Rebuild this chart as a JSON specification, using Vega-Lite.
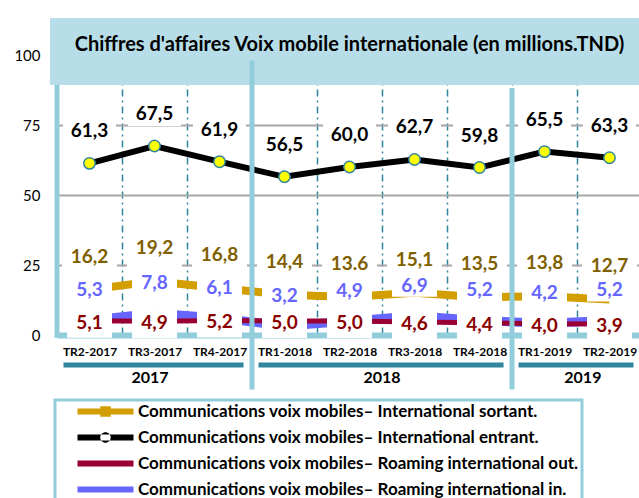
{
  "$schema": "https://vega.github.io/schema/vega-lite/v6.json",
  "width": 585,
  "height": 280,
  "autosize": {"type": "none"},
  "padding": {"left": 57, "top": 55, "right": 0, "bottom": 163},
  "background": "white",
  "config": {"view": {"stroke": null}, "font": "Lato", "legend": {"strokeWidth": 3}},
  "datasets": {
    "main": [
      {"q": "TR2-2017", "k": "e", "series": "Communications voix mobiles– International entrant.", "v": 61.3, "label": "61,3"},
      {"q": "TR3-2017", "k": "e", "series": "Communications voix mobiles– International entrant.", "v": 67.5, "label": "67,5"},
      {"q": "TR4-2017", "k": "e", "series": "Communications voix mobiles– International entrant.", "v": 61.9, "label": "61,9"},
      {"q": "TR1-2018", "k": "e", "series": "Communications voix mobiles– International entrant.", "v": 56.5, "label": "56,5"},
      {"q": "TR2-2018", "k": "e", "series": "Communications voix mobiles– International entrant.", "v": 60.0, "label": "60,0"},
      {"q": "TR3-2018", "k": "e", "series": "Communications voix mobiles– International entrant.", "v": 62.7, "label": "62,7"},
      {"q": "TR4-2018", "k": "e", "series": "Communications voix mobiles– International entrant.", "v": 59.8, "label": "59,8"},
      {"q": "TR1-2019", "k": "e", "series": "Communications voix mobiles– International entrant.", "v": 65.5, "label": "65,5"},
      {"q": "TR2-2019", "k": "e", "series": "Communications voix mobiles– International entrant.", "v": 63.3, "label": "63,3"},
      {"q": "TR2-2017", "k": "s", "series": "Communications voix mobiles– International sortant.", "v": 16.2, "label": "16,2"},
      {"q": "TR3-2017", "k": "s", "series": "Communications voix mobiles– International sortant.", "v": 19.2, "label": "19,2"},
      {"q": "TR4-2017", "k": "s", "series": "Communications voix mobiles– International sortant.", "v": 16.8, "label": "16,8"},
      {"q": "TR1-2018", "k": "s", "series": "Communications voix mobiles– International sortant.", "v": 14.4, "label": "14,4"},
      {"q": "TR2-2018", "k": "s", "series": "Communications voix mobiles– International sortant.", "v": 13.6, "label": "13.6"},
      {"q": "TR3-2018", "k": "s", "series": "Communications voix mobiles– International sortant.", "v": 15.1, "label": "15,1"},
      {"q": "TR4-2018", "k": "s", "series": "Communications voix mobiles– International sortant.", "v": 13.5, "label": "13,5"},
      {"q": "TR1-2019", "k": "s", "series": "Communications voix mobiles– International sortant.", "v": 13.8, "label": "13,8"},
      {"q": "TR2-2019", "k": "s", "series": "Communications voix mobiles– International sortant.", "v": 12.7, "label": "12,7"},
      {"q": "TR2-2017", "k": "o", "series": "Communications voix mobiles– Roaming international out.", "v": 5.1, "label": "5,1"},
      {"q": "TR3-2017", "k": "o", "series": "Communications voix mobiles– Roaming international out.", "v": 4.9, "label": "4,9"},
      {"q": "TR4-2017", "k": "o", "series": "Communications voix mobiles– Roaming international out.", "v": 5.2, "label": "5,2"},
      {"q": "TR1-2018", "k": "o", "series": "Communications voix mobiles– Roaming international out.", "v": 5.0, "label": "5,0"},
      {"q": "TR2-2018", "k": "o", "series": "Communications voix mobiles– Roaming international out.", "v": 5.0, "label": "5,0"},
      {"q": "TR3-2018", "k": "o", "series": "Communications voix mobiles– Roaming international out.", "v": 4.6, "label": "4,6"},
      {"q": "TR4-2018", "k": "o", "series": "Communications voix mobiles– Roaming international out.", "v": 4.4, "label": "4,4"},
      {"q": "TR1-2019", "k": "o", "series": "Communications voix mobiles– Roaming international out.", "v": 4.0, "label": "4,0"},
      {"q": "TR2-2019", "k": "o", "series": "Communications voix mobiles– Roaming international out.", "v": 3.9, "label": "3,9"},
      {"q": "TR2-2017", "k": "i", "series": "Communications voix mobiles– Roaming international in.", "v": 5.3, "label": "5,3"},
      {"q": "TR3-2017", "k": "i", "series": "Communications voix mobiles– Roaming international in.", "v": 7.8, "label": "7,8"},
      {"q": "TR4-2017", "k": "i", "series": "Communications voix mobiles– Roaming international in.", "v": 6.1, "label": "6,1"},
      {"q": "TR1-2018", "k": "i", "series": "Communications voix mobiles– Roaming international in.", "v": 3.2, "label": "3,2"},
      {"q": "TR2-2018", "k": "i", "series": "Communications voix mobiles– Roaming international in.", "v": 4.9, "label": "4,9"},
      {"q": "TR3-2018", "k": "i", "series": "Communications voix mobiles– Roaming international in.", "v": 6.9, "label": "6,9"},
      {"q": "TR4-2018", "k": "i", "series": "Communications voix mobiles– Roaming international in.", "v": 5.2, "label": "5,2"},
      {"q": "TR1-2019", "k": "i", "series": "Communications voix mobiles– Roaming international in.", "v": 4.2, "label": "4,2"},
      {"q": "TR2-2019", "k": "i", "series": "Communications voix mobiles– Roaming international in.", "v": 5.2, "label": "5,2"}
    ],
    "years": [
      {"year": "2017", "start": "TR2-2017", "end": "TR4-2017"},
      {"year": "2018", "start": "TR1-2018", "end": "TR4-2018"},
      {"year": "2019", "start": "TR1-2019", "end": "TR2-2019"}
    ],
    "one": [{"a": 1}]
  },
  "data": {"name": "main"},
  "layer": [
    {
      "transform": [{"filter": "datum.k === 's'"}],
      "mark": {"type": "line", "color": "#d39e00", "strokeWidth": 8},
      "encoding": {
        "x": {
          "field": "q", "type": "ordinal", "sort": null,
          "scale": {"type": "band", "domain": ["TR2-2017", "TR3-2017", "TR4-2017", "TR1-2018", "TR2-2018", "TR3-2018", "TR4-2018", "TR1-2019", "TR2-2019"], "paddingInner": 0, "paddingOuter": 0},
          "axis": {"title": null, "labelAngle": 0, "labelFont": "Lato", "labelFontWeight": "bold", "labelFontSize": 12, "labelColor": "black", "labelPadding": 11, "ticks": false, "domainColor": "#92cddc", "domainWidth": 6, "grid": true, "gridColor": "#31859c", "gridDash": [7, 4, 2, 4], "gridWidth": 1.5, "tickBand": "extent"}
        },
        "y": {
          "field": "v", "type": "quantitative",
          "scale": {"domain": [0, 100], "nice": false},
          "axis": {"title": null, "values": [0, 25, 50, 75, 100], "labelFont": "Lato", "labelFontSize": 15, "labelColor": "black", "labelPadding": 17, "ticks": false, "domain": false, "gridColor": "#a6a6a6", "gridWidth": 2}
        }
      }
    },
    {
      "transform": [{"filter": "datum.k === 'i'"}],
      "mark": {"type": "line", "color": "#6666ff", "strokeWidth": 9},
      "encoding": {"x": {"field": "q", "type": "ordinal", "sort": null}, "y": {"field": "v", "type": "quantitative"}}
    },
    {
      "transform": [{"filter": "datum.k === 'o'"}],
      "mark": {"type": "line", "color": "#990033", "strokeWidth": 5},
      "encoding": {"x": {"field": "q", "type": "ordinal", "sort": null}, "y": {"field": "v", "type": "quantitative"}}
    },
    {
      "transform": [{"filter": "datum.k === 's'"}],
      "mark": {"type": "point", "shape": "M-1,-0.58H1V0.58H-1Z", "size": 3025, "filled": true, "fill": "white", "opacity": 1, "strokeWidth": 0, "yOffset": -30},
      "encoding": {"x": {"field": "q", "type": "ordinal", "sort": null}, "y": {"field": "v", "type": "quantitative"}}
    },
    {
      "transform": [{"filter": "datum.k === 'i'"}],
      "mark": {"type": "point", "shape": "M-1,-0.49H1V0.49H-1Z", "size": 2025, "filled": true, "fill": "white", "opacity": 1, "strokeWidth": 0, "yOffset": -30},
      "encoding": {"x": {"field": "q", "type": "ordinal", "sort": null}, "y": {"field": "v", "type": "quantitative"}}
    },
    {
      "transform": [{"filter": "datum.k === 'o'"}],
      "mark": {"type": "point", "shape": "M-1,-0.667H1V0.667H-1Z", "size": 2025, "filled": true, "fill": "white", "opacity": 1, "strokeWidth": 0, "yOffset": 2},
      "encoding": {"x": {"field": "q", "type": "ordinal", "sort": null}, "y": {"field": "v", "type": "quantitative"}}
    },
    {
      "transform": [{"filter": "datum.k === 'e'"}],
      "mark": {"type": "point", "shape": "M-1,-0.453H1V0.453H-1Z", "size": 2809, "filled": true, "fill": "white", "opacity": 1, "strokeWidth": 0, "yOffset": -32},
      "encoding": {"x": {"field": "q", "type": "ordinal", "sort": null}, "y": {"field": "v", "type": "quantitative"}}
    },
    {
      "data": {"name": "one"},
      "mark": {"type": "rect", "fill": "#b7dee8", "xOffset": -7},
      "encoding": {
        "x": {"datum": "TR2-2017", "bandPosition": 0},
        "x2": {"datum": "TR2-2019", "bandPosition": 1},
        "y": {"datum": 113.2},
        "y2": {"datum": 89.3}
      }
    },
    {
      "transform": [{"filter": "datum.k === 'e'"}],
      "mark": {"type": "line", "color": "black", "strokeWidth": 6},
      "encoding": {"x": {"field": "q", "type": "ordinal", "sort": null}, "y": {"field": "v", "type": "quantitative"}}
    },
    {
      "transform": [{"filter": "datum.k === 'e'"}],
      "mark": {"type": "point", "filled": true, "fill": "#ffff00", "stroke": "#31859c", "strokeWidth": 1.5, "size": 130, "opacity": 1},
      "encoding": {"x": {"field": "q", "type": "ordinal", "sort": null}, "y": {"field": "v", "type": "quantitative"}}
    },
    {
      "data": {"name": "one"},
      "mark": {"type": "rule", "color": "#92cddc", "strokeWidth": 5},
      "encoding": {"x": {"datum": "TR1-2018", "bandPosition": 0}, "y": {"datum": 98}, "y2": {"datum": -19.5}}
    },
    {
      "data": {"name": "one"},
      "mark": {"type": "rule", "color": "#92cddc", "strokeWidth": 5},
      "encoding": {"x": {"datum": "TR1-2019", "bandPosition": 0}, "y": {"datum": 88.2}, "y2": {"datum": -19.5}}
    },
    {
      "data": {"name": "one"},
      "mark": {"type": "rule", "color": "#92cddc", "strokeWidth": 5},
      "encoding": {"x": {"datum": "TR2-2017", "bandPosition": 0}, "y": {"datum": 89.3}, "y2": {"datum": -1}}
    },
    {
      "data": {"name": "one"},
      "mark": {"type": "text", "fontWeight": "bold", "fontSize": 20, "font": "Lato", "color": "black", "baseline": "middle", "align": "center"},
      "encoding": {"x": {"datum": "TR2-2018"}, "y": {"datum": 103.6}, "text": {"value": "Chiffres d'affaires Voix mobile internationale (en millions.TND)"}}
    },
    {
      "transform": [{"filter": "datum.k === 'e'"}],
      "mark": {"type": "text", "fontWeight": "bold", "fontSize": 19, "font": "Lato", "color": "black", "baseline": "middle", "dy": -32},
      "encoding": {"x": {"field": "q", "type": "ordinal", "sort": null}, "y": {"field": "v", "type": "quantitative"}, "text": {"field": "label"}}
    },
    {
      "transform": [{"filter": "datum.k === 's'"}],
      "mark": {"type": "text", "fontWeight": "bold", "fontSize": 19, "font": "Lato", "color": "#7f6000", "baseline": "middle", "dy": -33},
      "encoding": {"x": {"field": "q", "type": "ordinal", "sort": null}, "y": {"field": "v", "type": "quantitative"}, "text": {"field": "label"}}
    },
    {
      "transform": [{"filter": "datum.k === 'i'"}],
      "mark": {"type": "text", "fontWeight": "bold", "fontSize": 19, "font": "Lato", "color": "#6666ff", "baseline": "middle", "dy": -30},
      "encoding": {"x": {"field": "q", "type": "ordinal", "sort": null}, "y": {"field": "v", "type": "quantitative"}, "text": {"field": "label"}}
    },
    {
      "transform": [{"filter": "datum.k === 'o'"}],
      "mark": {"type": "text", "fontWeight": "bold", "fontSize": 19, "font": "Lato", "color": "#8b0000", "baseline": "middle", "dy": 2},
      "encoding": {"x": {"field": "q", "type": "ordinal", "sort": null}, "y": {"field": "v", "type": "quantitative"}, "text": {"field": "label"}}
    },
    {
      "data": {"name": "years"},
      "mark": {"type": "rule", "color": "#31859c", "strokeWidth": 5},
      "encoding": {
        "x": {"field": "start", "type": "ordinal", "bandPosition": 0.1},
        "x2": {"field": "end", "bandPosition": 0.87},
        "y": {"datum": -10.7}
      }
    },
    {
      "data": {"name": "one"},
      "mark": {"type": "text", "fontWeight": "bold", "fontSize": 16, "font": "Lato", "color": "black", "baseline": "middle"},
      "encoding": {"x": {"datum": "TR3-2017", "bandPosition": 0.43}, "y": {"datum": -15.4}, "text": {"value": "2017"}}
    },
    {
      "data": {"name": "one"},
      "mark": {"type": "text", "fontWeight": "bold", "fontSize": 16, "font": "Lato", "color": "black", "baseline": "middle"},
      "encoding": {"x": {"datum": "TR3-2018", "bandPosition": 0}, "y": {"datum": -15.4}, "text": {"value": "2018"}}
    },
    {
      "data": {"name": "one"},
      "mark": {"type": "text", "fontWeight": "bold", "fontSize": 16, "font": "Lato", "color": "black", "baseline": "middle"},
      "encoding": {"x": {"datum": "TR2-2019", "bandPosition": 0.09}, "y": {"datum": -15.4}, "text": {"value": "2019"}}
    },
    {
      "mark": {"type": "point", "filled": true, "opacity": 0},
      "encoding": {
        "x": {"field": "q", "type": "ordinal", "sort": null},
        "y": {"field": "v", "type": "quantitative"},
        "color": {
          "field": "series", "type": "nominal",
          "scale": {
            "domain": ["Communications voix mobiles– International sortant.", "Communications voix mobiles– International entrant.", "Communications voix mobiles– Roaming international out.", "Communications voix mobiles– Roaming international in."],
            "range": ["#d39e00", "#000000", "#990033", "#6666ff"]
          },
          "legend": {"title": null, "orient": "none", "legendX": -2, "legendY": 345, "direction": "vertical", "symbolSize": 196, "symbolOffset": 39, "labelOffset": 24, "labelFont": "Lato", "labelFontWeight": "bold", "labelFontSize": 17, "labelColor": "black", "labelLimit": 700, "rowPadding": 8, "padding": 3, "strokeColor": "#92cddc", "fillColor": "white", "symbolOpacity": 1, "symbolStrokeWidth": 0}
        },
        "shape": {
          "field": "series", "type": "nominal",
          "scale": {
            "domain": ["Communications voix mobiles– International sortant.", "Communications voix mobiles– International entrant.", "Communications voix mobiles– Roaming international out.", "Communications voix mobiles– Roaming international in."],
            "range": [
              "M-4,-0.43H4V0.43H-4Z M-0.75,-0.75H0.75V0.75H-0.75Z",
              "M-4,-0.43H4V0.43H-4Z M-0.75,0A0.75,0.75 0 1,0 0.75,0A0.75,0.75 0 1,0 -0.75,0Z",
              "M-4,-0.43H4V0.43H-4Z",
              "M-4,-0.43H4V0.43H-4Z"
            ]
          },
          "legend": {"title": null, "orient": "none", "legendX": -2, "legendY": 345, "direction": "vertical", "symbolSize": 196, "symbolOffset": 39, "labelOffset": 24, "labelFont": "Lato", "labelFontWeight": "bold", "labelFontSize": 17, "labelColor": "black", "labelLimit": 700, "rowPadding": 8, "padding": 3, "strokeColor": "#92cddc", "fillColor": "white", "symbolOpacity": 1, "symbolStrokeWidth": 0}
        }
      }
    }
  ]
}
